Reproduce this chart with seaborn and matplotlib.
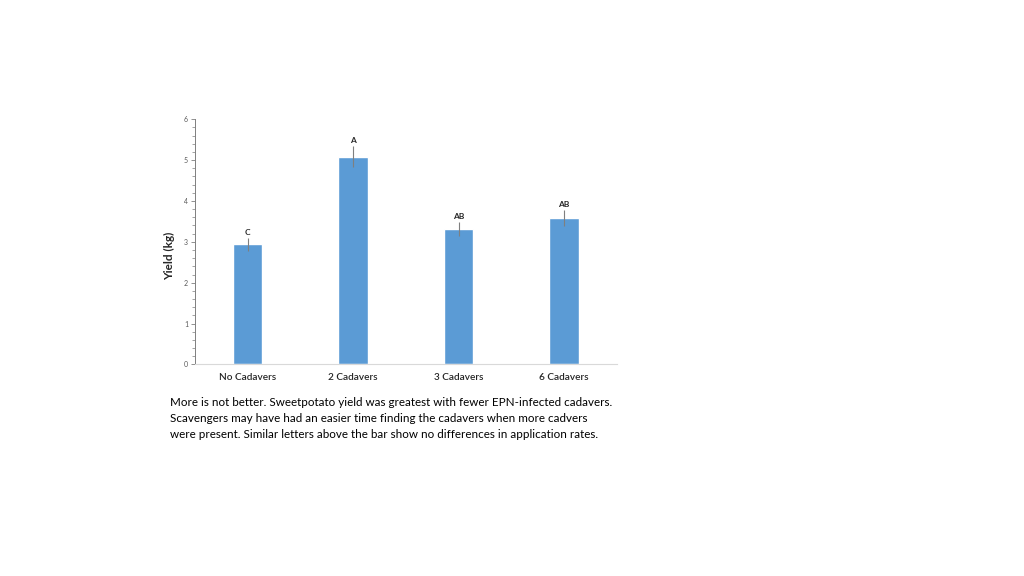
import matplotlib
matplotlib.use("Agg")
import matplotlib.pyplot as plt
from matplotlib.ticker import MultipleLocator
import pandas as pd
import seaborn as sns

# values
treatments = ["No Cadavers", "2 Cadavers", "3 Cadavers", "6 Cadavers"]
yield_kg = [2.94, 5.08, 3.32, 3.58]
yield_se = [0.16, 0.26, 0.17, 0.19]
letters = ["C", "A", "AB", "AB"]
caption = (
    "More is not better. Sweetpotato yield was greatest with fewer EPN-infected cadavers.\n"
    "Scavengers may have had an easier time finding the cadavers when more cadvers\n"
    "were present. Similar letters above the bar show no differences in application rates."
)

sns.set_style("white")
plt.rcParams["font.family"] = ["Lato", "DejaVu Sans"]

df = pd.DataFrame({"treatment": treatments, "yield": yield_kg})

fig = plt.figure(figsize=(10.24, 5.76), dpi=100)
ax = fig.add_axes([0.1904, 0.3674, 0.4121, 0.4255])

sns.barplot(data=df, x="treatment", y="yield", color="#5B9BD5", saturation=1,
            width=0.28, errorbar=None, ax=ax)
xs = range(len(treatments))
ax.errorbar(xs, yield_kg, yerr=yield_se, fmt="none", ecolor="#7F7F7F",
            elinewidth=0.8, capsize=0)
for x, y, e, lab in zip(xs, yield_kg, yield_se, letters):
    ax.text(x, y + e + 0.05, lab, ha="center", va="bottom", fontsize=6,
            fontweight="bold", color="#262626")

ax.set_xlim(-0.5, len(treatments) - 0.5)
ax.set_ylim(0, 6)
ax.yaxis.set_major_locator(MultipleLocator(1))
ax.yaxis.set_minor_locator(MultipleLocator(0.2))
ax.tick_params(axis="y", which="major", direction="out", length=3, width=0.6,
               color="#7F7F7F", labelsize=5, labelcolor="#595959", left=True, pad=2)
ax.tick_params(axis="y", which="minor", direction="out", length=2, width=0.5,
               color="#7F7F7F", left=True)
ax.tick_params(axis="x", length=0, labelsize=7.2, labelcolor="#262626", pad=6)
for lab in ax.get_xticklabels():
    lab.set_fontweight("semibold")
ax.set_xlabel("")
ax.set_ylabel("Yield (kg)", fontsize=8.5, fontweight="bold", color="#262626")
ax.yaxis.set_label_coords(-0.047, 0.442)

for side in ["top", "right"]:
    ax.spines[side].set_visible(False)
ax.spines["left"].set_color("#7F7F7F")
ax.spines["left"].set_linewidth(0.7)
ax.spines["bottom"].set_color("#D9D9D9")
ax.spines["bottom"].set_linewidth(0.8)

fig.text(170 / 1024, 1 - 397 / 576, caption, ha="left", va="top", fontsize=8.4,
         color="#000000", linespacing=1.56)

fig.savefig("out.png", dpi=100)
